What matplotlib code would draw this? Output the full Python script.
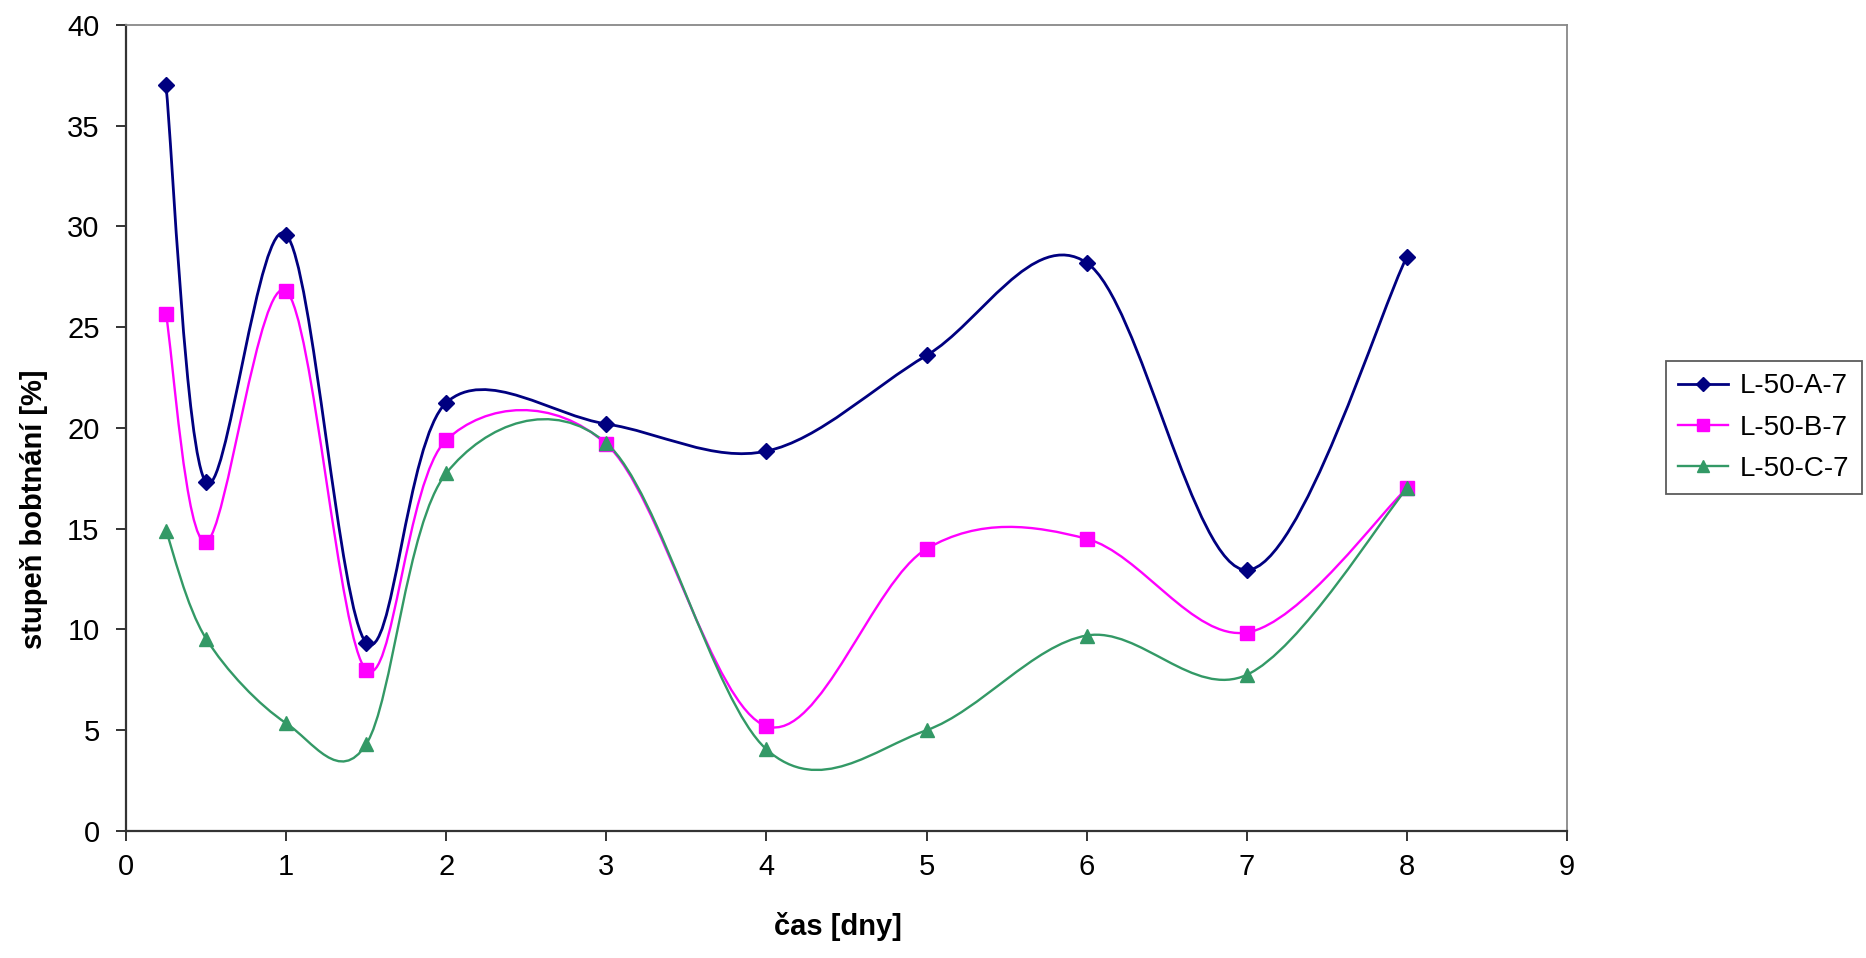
import matplotlib
matplotlib.use('Agg')
import matplotlib.pyplot as plt
from matplotlib.path import Path
from matplotlib.patches import PathPatch
from matplotlib.lines import Line2D

plt.rcParams['font.family'] = ['Liberation Sans', 'DejaVu Sans']

# time of measurement [days]
cas = [0.25, 0.5, 1, 1.5, 2, 3, 4, 5, 6, 7, 8]

# degree of swelling [%]
l50_a7 = [37.0, 17.3, 29.6, 9.35, 21.25, 20.2, 18.85, 23.6, 28.2, 12.95, 28.5]
l50_b7 = [25.65, 14.35, 26.8, 8.0, 19.4, 19.2, 5.2, 14.0, 14.5, 9.85, 17.0]
l50_c7 = [14.9, 9.55, 5.35, 4.3, 17.75, 19.25, 4.05, 5.0, 9.7, 7.75, 17.0]

names = ['L-50-A-7', 'L-50-B-7', 'L-50-C-7']
series = [l50_a7, l50_b7, l50_c7]
colors = ['#000080', '#FF00FF', '#339966']
markers = ['D', 's', '^']
msizes = [8, 10, 10]
widths = [2.0, 1.7, 1.7]


def smooth_path(xs, ys):
    # cubic bezier through the points, Catmull-Rom style control points
    pts = list(zip(xs, ys))
    n = len(pts)
    verts = [pts[0]]
    codes = [Path.MOVETO]
    for i in range(n - 1):
        p0 = pts[i - 1] if i > 0 else pts[i]
        p1 = pts[i]
        p2 = pts[i + 1]
        p3 = pts[i + 2] if i + 2 < n else pts[i + 1]
        c1 = (p1[0] + (p2[0] - p0[0]) / 6., p1[1] + (p2[1] - p0[1]) / 6.)
        c2 = (p2[0] - (p3[0] - p1[0]) / 6., p2[1] - (p3[1] - p1[1]) / 6.)
        verts += [c1, c2, p2]
        codes += [Path.CURVE4] * 3
    return Path(verts, codes)


fig = plt.figure(figsize=(18.66, 9.58), dpi=100)
ax = fig.add_axes([0.0675, 0.1326, 0.7723, 0.8413])

handles = []
for yy, name, c, m, ms, lw in zip(series, names, colors, markers, msizes, widths):
    ax.add_patch(PathPatch(smooth_path(cas, yy), facecolor='none',
                           edgecolor=c, lw=lw, zorder=2))
    ax.plot(cas, yy, linestyle='none', marker=m, color=c, ms=ms,
            mec=c, zorder=3)
    handles.append(Line2D([], [], color=c, lw=lw, marker=m, ms=ms - 1,
                          label=name))

ax.set_xlim(0, 9)
ax.set_ylim(0, 40)
ax.set_xticks(range(0, 10))
ax.set_yticks(range(0, 45, 5))

for s in ['left', 'bottom']:
    ax.spines[s].set_color('#333333')
    ax.spines[s].set_linewidth(1.6)
for s in ['top', 'right']:
    ax.spines[s].set_color('#888888')
    ax.spines[s].set_linewidth(1.3)

ax.tick_params(direction='out', length=7, width=1.4, colors='#333333',
               labelcolor='black', labelsize=21)
ax.tick_params(axis='y', pad=12)
ax.tick_params(axis='x', pad=9)

fig.text(0.449, 0.018, 'čas [dny]', fontsize=21, fontweight='bold',
         ha='center', va='bottom')
fig.text(0.018, 0.468, 'stupeň bobtnání [%]', fontsize=21,
         fontweight='bold', rotation=90, ha='center', va='center')

leg = fig.legend(handles=handles, loc='center left',
                 bbox_to_anchor=(0.8928, 0.5537), fontsize=20,
                 frameon=True, fancybox=False, shadow=False,
                 handlelength=1.8, handletextpad=0.4, labelspacing=0.55,
                 borderpad=0.45, borderaxespad=0)
leg.get_frame().set_edgecolor('#333333')
leg.get_frame().set_linewidth(1.3)

plt.savefig('out.png', dpi=100)
